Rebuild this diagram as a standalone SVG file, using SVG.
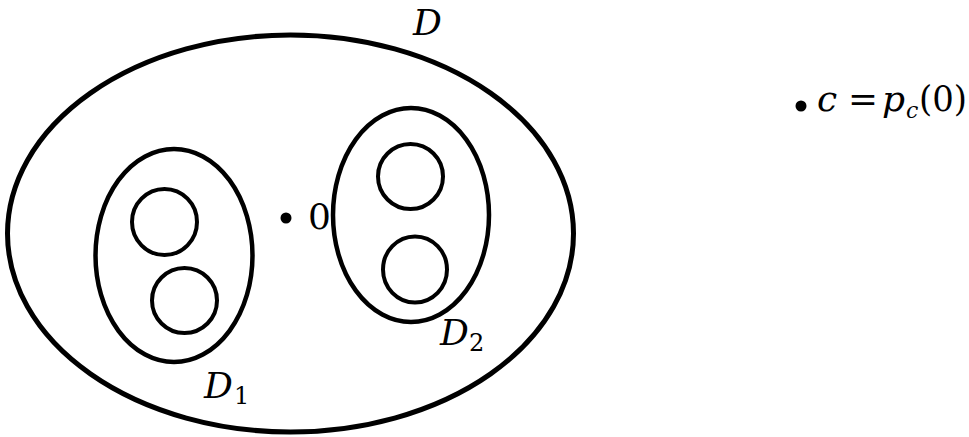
<svg xmlns="http://www.w3.org/2000/svg" width="969" height="437" viewBox="0 0 969 437">
<style>
.outer{fill:none;stroke:#000;stroke-width:5}
.set{fill:none;stroke:#000;stroke-width:4.5}
.disk{fill:none;stroke:#000;stroke-width:4}
.pt{fill:#000}
</style>
<rect width="969" height="437" fill="#fff"/>
<g font-family="'DejaVu Serif', 'Liberation Serif', serif" font-size="36" fill="#000">
<g id="D">
<ellipse class="outer" cx="290.5" cy="233.5" rx="283" ry="198.5"/>
<text x="413" y="35" font-style="italic">D</text>
</g>
<g id="D1">
<ellipse class="set" cx="174" cy="255.5" rx="78.5" ry="106.5"/>
<text x="204" y="398" font-style="italic">D</text>
<text x="234" y="404" font-size="24">1</text>
</g>
<g id="D1-disk-upper"><ellipse class="disk" cx="164.5" cy="222" rx="32.5" ry="33"/></g>
<g id="D1-disk-lower"><ellipse class="disk" cx="184.5" cy="300.5" rx="32.5" ry="32.5"/></g>
<g id="D2">
<ellipse class="set" cx="411" cy="215" rx="78" ry="107"/>
<text x="440" y="345" font-style="italic">D</text>
<text x="469" y="351" font-size="24">2</text>
</g>
<g id="D2-disk-upper"><ellipse class="disk" cx="410.5" cy="176.5" rx="32.5" ry="32.5"/></g>
<g id="D2-disk-lower"><ellipse class="disk" cx="415" cy="269.5" rx="32" ry="33"/></g>
<g id="origin">
<circle class="pt" cx="286" cy="218" r="5.5"/>
<text x="308" y="229">0</text>
</g>
<g id="point-c">
<circle class="pt" cx="801" cy="106" r="5.5"/>
<text x="817" y="111" font-style="italic">c</text>
<text x="848" y="111" textLength="30" lengthAdjust="spacingAndGlyphs">=</text>
<text x="882" y="111" font-style="italic">p</text>
<text x="906" y="118" font-size="22" font-style="italic">c</text>
<text x="919" y="111" textLength="48" lengthAdjust="spacingAndGlyphs">(0)</text>
</g>
</g>
<g id="connectors"/>
</svg>
